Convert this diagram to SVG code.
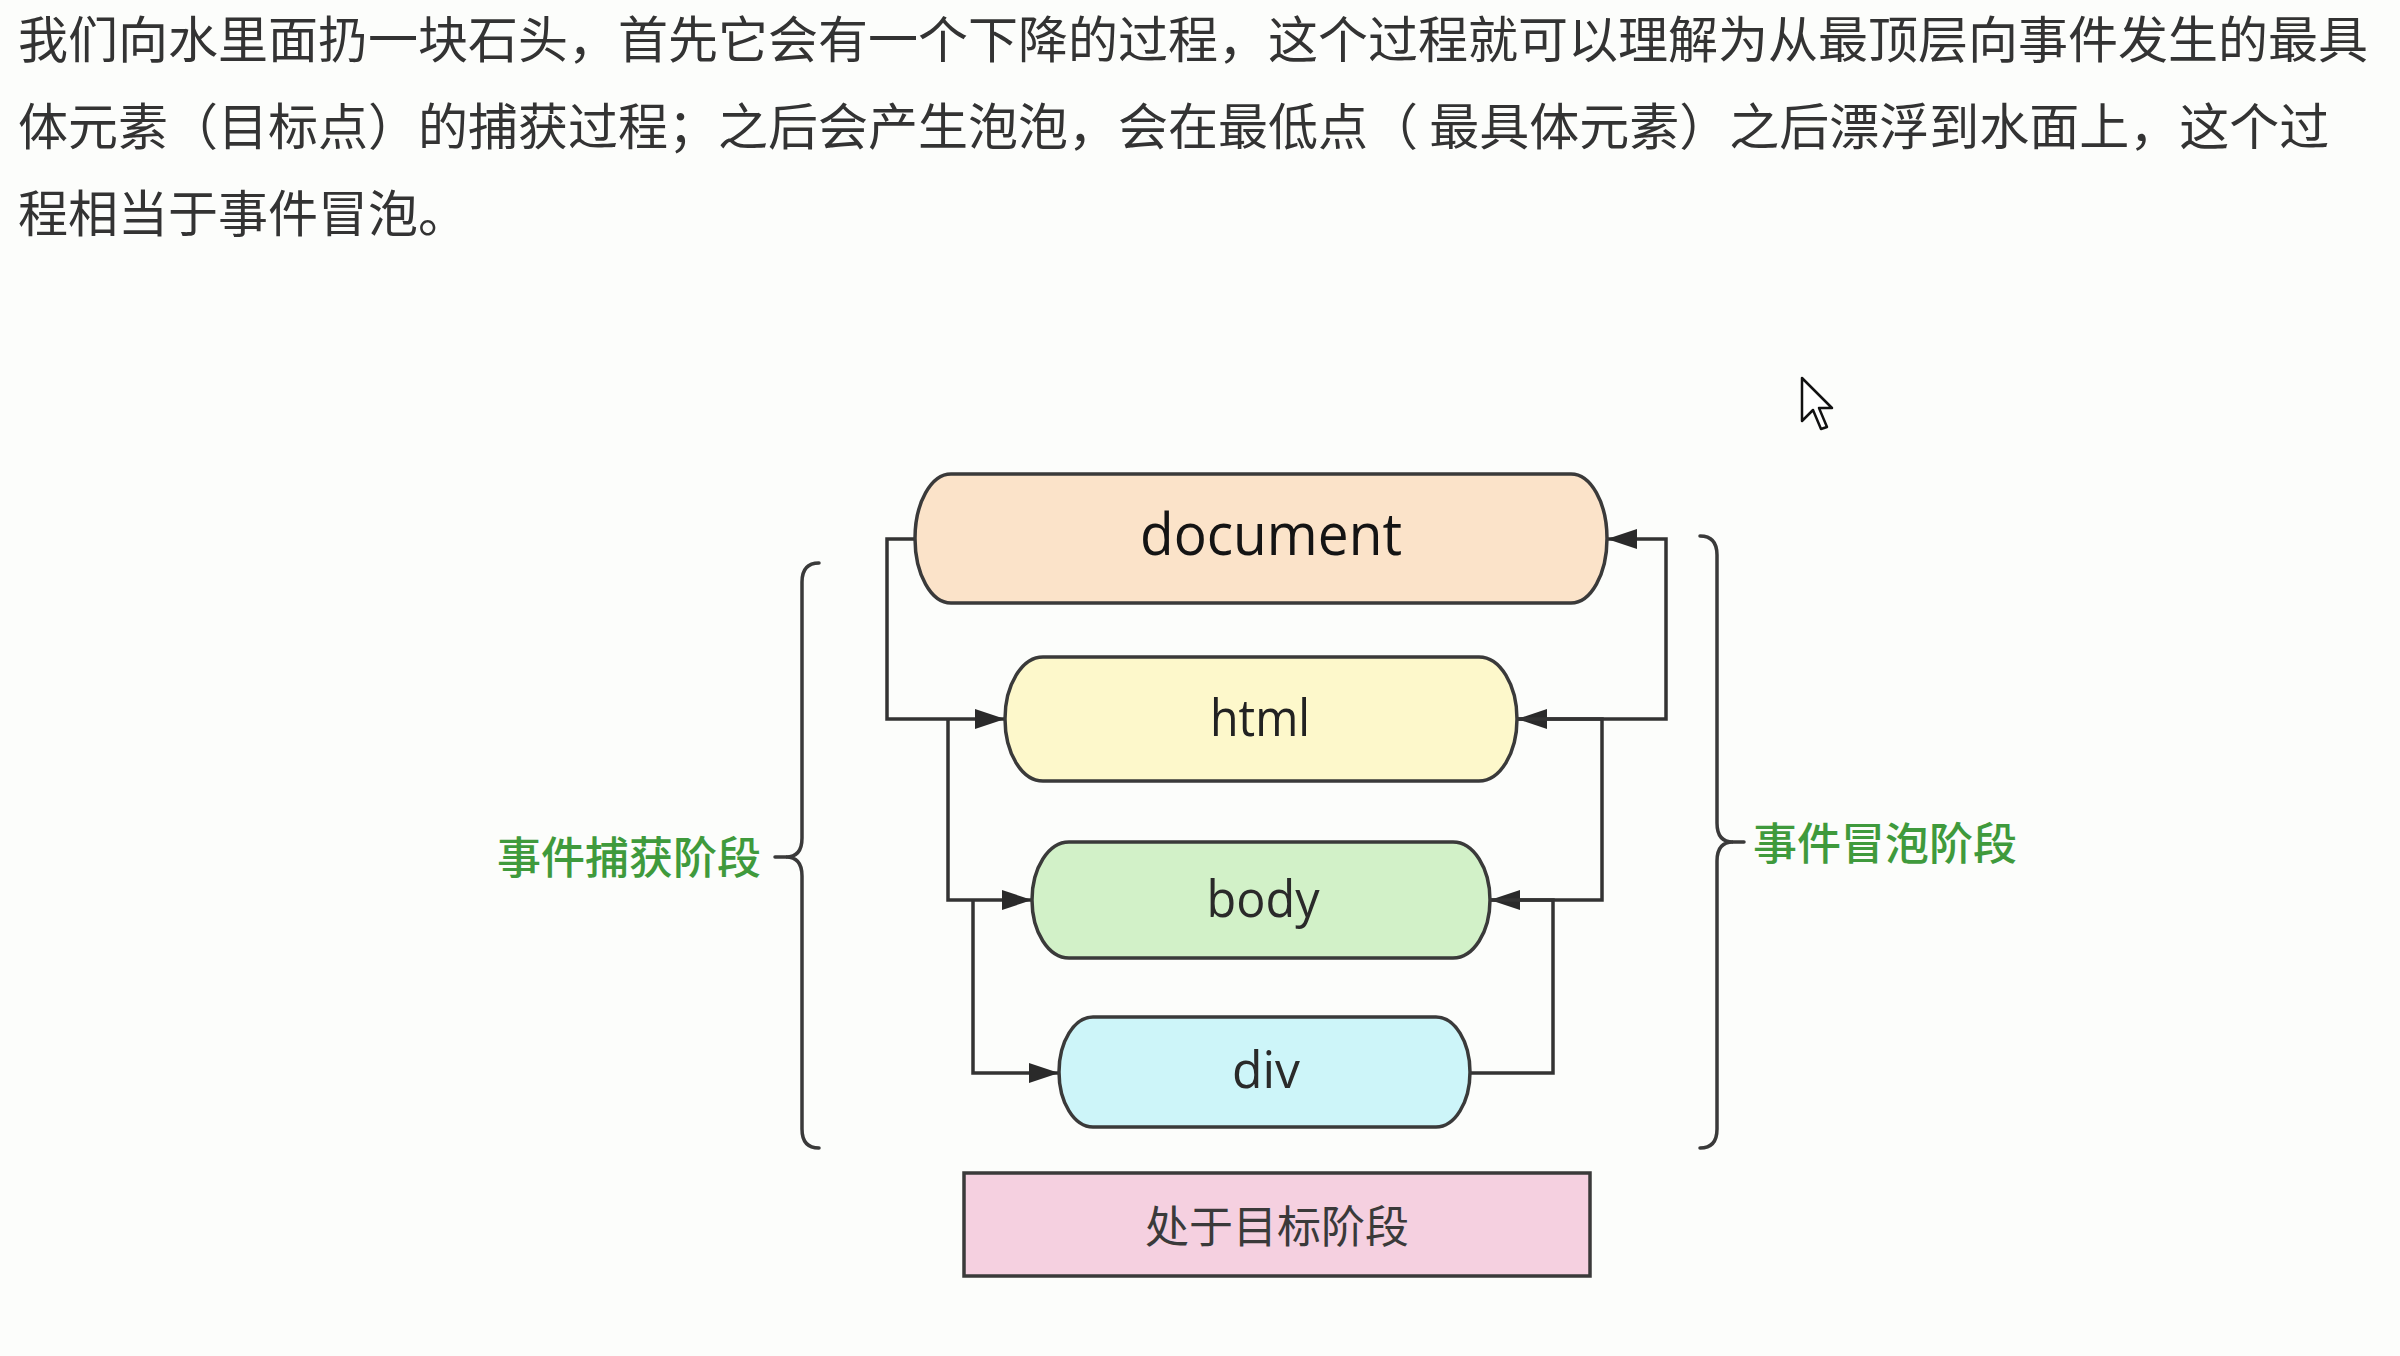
<svg xmlns="http://www.w3.org/2000/svg" width="2400" height="1356" viewBox="0 0 2400 1356">
<style>
  .para { font-family: "Noto Sans CJK SC", "Noto Sans", sans-serif; font-size: 50px; fill: #333333; }
  .node { stroke: #3a3a3a; stroke-width: 3.5; }
  .lbl { font-family: "Open Sans", "Noto Sans", sans-serif; text-anchor: middle; }
  .phase { font-family: "Noto Sans CJK SC", sans-serif; font-size: 44px; font-weight: 500; fill: #3f9a3c; }
  .conn { fill: none; stroke: #333333; stroke-width: 3.5; marker-end: url(#arr); }
  .brace { fill: none; stroke: #3a3a3a; stroke-width: 3.5; stroke-linecap: round; }
</style>
<defs>
  <marker id="arr" viewBox="0 0 30 20" refX="30" refY="10" markerWidth="30" markerHeight="20" markerUnits="userSpaceOnUse" orient="auto">
    <path d="M0,0 L30,10 L0,20 z" fill="#2a2a2a"/>
  </marker>
</defs>
<rect x="0" y="0" width="2400" height="1356" fill="#fcfdfb"/>

<g id="paragraph">
  <text class="para" x="18" y="58">我们向水里面扔一块石头，首先它会有一个下降的过程，这个过程就可以理解为从最顶层向事件发生的最具</text>
  <text class="para" x="18" y="145">体元素（目标点）的捕获过程；之后会产生泡泡，会在最低点（ 最具体元素）之后漂浮到水面上，这个过</text>
  <text class="para" x="18" y="232">程相当于事件冒泡。</text>
</g>

<g id="connectors">
  <path class="conn" d="M915,539 H887 V719 H1005"/>
  <path class="conn" d="M948,719 V900 H1032"/>
  <path class="conn" d="M973,900 V1073 H1059"/>
  <path class="conn" d="M1470,1073 H1553 V900 H1490"/>
  <path class="conn" d="M1490,900 H1602 V719 H1517"/>
  <path class="conn" d="M1517,719 H1666 V539 H1607"/>
</g>

<g id="node-document">
  <rect class="node" x="915" y="474" width="692" height="129" rx="36" ry="64.5" fill="#fbe3c9"/>
  <text class="lbl" x="1271" y="555" font-size="58" fill="#141414" textLength="262" lengthAdjust="spacingAndGlyphs">document</text>
</g>
<g id="node-html">
  <rect class="node" x="1005" y="657" width="512" height="124" rx="38" ry="62" fill="#fdf8cb"/>
  <text class="lbl" x="1260" y="736" font-size="52" fill="#222222" textLength="100" lengthAdjust="spacingAndGlyphs">html</text>
</g>
<g id="node-body">
  <rect class="node" x="1032" y="842" width="458" height="116" rx="37" ry="58" fill="#d2f1c8"/>
  <text class="lbl" x="1263" y="917" font-size="52" fill="#2a2a2a" textLength="113" lengthAdjust="spacingAndGlyphs">body</text>
</g>
<g id="node-div">
  <rect class="node" x="1059" y="1017" width="411" height="110" rx="34" ry="55" fill="#cdf5f9"/>
  <text class="lbl" x="1266" y="1088" font-size="52" fill="#2a2a2a" textLength="68" lengthAdjust="spacingAndGlyphs">div</text>
</g>
<g id="node-target">
  <rect x="964" y="1173" width="626" height="103" fill="#f5d0e0" stroke="#3a3a3a" stroke-width="3.5"/>
  <text x="1277" y="1243" text-anchor="middle" font-family="Noto Sans CJK SC, sans-serif" font-size="44" fill="#3a3a3a">处于目标阶段</text>
</g>

<g id="capture-phase">
  <path class="brace" d="M819,563 Q802,563 802,582 L802,838 Q802,857 786,857 Q802,857 802,876 L802,1129 Q802,1148 819,1148"/>
  <path class="brace" d="M786,857 H775"/>
  <text class="phase" x="497" y="874">事件捕获阶段</text>
</g>

<g id="bubble-phase">
  <path class="brace" d="M1700,536 Q1717,536 1717,555 L1717,823 Q1717,842 1733,842 Q1717,842 1717,861 L1717,1129 Q1717,1148 1700,1148"/>
  <path class="brace" d="M1733,842 H1744"/>
  <text class="phase" x="1753" y="860">事件冒泡阶段</text>
</g>

<g id="cursor">
  <polygon points="1802,378 1802,421 1813,410 1821,429 1827,427 1819,408 1832,408" fill="#ffffff" stroke="#111111" stroke-width="2.5" stroke-linejoin="round"/>
</g>
</svg>
